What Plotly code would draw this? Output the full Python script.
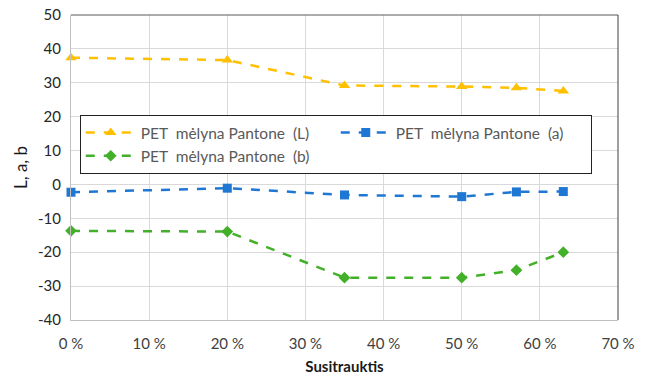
import plotly.graph_objects as go

# Shrinkage (%) and CIELab values
susitrauktis = [0, 20, 35, 50, 57, 63]
L_vals = [37.4, 36.7, 29.2, 28.9, 28.5, 27.6]
a_vals = [-2.3, -1.1, -3.1, -3.6, -2.2, -2.1]
b_vals = [-13.7, -13.9, -27.5, -27.5, -25.3, -20.0]

x_ticks = [0, 10, 20, 30, 40, 50, 60, 70]
x_ticktext = [f"{v} %" for v in x_ticks]
y_ticks = [-40, -30, -20, -10, 0, 10, 20, 30, 40, 50]
y_ticktext = [str(v) for v in y_ticks]

names = ["PET  mėlyna Pantone  (L)", "PET  mėlyna Pantone  (a)", "PET  mėlyna Pantone  (b)"]
colors = ["#FFC000", "#1F77D4", "#43B02A"]
symbols = ["triangle-up", "square", "diamond"]
sizes = [10, 9, 9]

fig = go.Figure()
for vals, name, col, sym, sz in zip([L_vals, a_vals, b_vals], names, colors, symbols, sizes):
    fig.add_trace(go.Scatter(
        x=susitrauktis, y=vals, name=name, mode="lines+markers",
        line=dict(color=col, width=2.5, dash="dash"),
        marker=dict(symbol=sym, size=sz, color=col),
        cliponaxis=False,
    ))

font_family = "Lato, 'Open Sans', sans-serif"

fig.update_layout(
    width=652, height=380,
    margin=dict(l=71, r=34, t=15, b=60),
    paper_bgcolor="white", plot_bgcolor="white",
    font=dict(family=font_family, size=15, color="#404040"),
    showlegend=True,
    legend=dict(
        orientation="h", x=0.016, y=0.672, xanchor="left", yanchor="top",
        bordercolor="#222222", borderwidth=1, bgcolor="white",
        font=dict(size=15.5, color="#595959"),
        entrywidth=190, entrywidthmode="pixels",
        itemwidth=50, tracegroupgap=0,
    ),
    xaxis=dict(
        range=[0, 70], tickvals=x_ticks, ticktext=x_ticktext,
        showgrid=True, gridcolor="#D9D9D9", gridwidth=1,
        showline=True, linecolor="#BFBFBF", linewidth=1,
        zeroline=False, ticks="", ticklabelstandoff=10, automargin=False,
        title=dict(text="<b>Susitrauktis</b>", font=dict(size=15, color="#1a1a1a"), standoff=10),
        tickfont=dict(size=15, color="#404040"),
    ),
    yaxis=dict(
        range=[-40, 50], tickvals=y_ticks, ticktext=y_ticktext,
        showgrid=True, gridcolor="#D9D9D9", gridwidth=1,
        showline=True, linecolor="#BFBFBF", linewidth=1,
        zeroline=False, ticks="", ticklabelstandoff=6, automargin=False,
        title=dict(text="L, a, b", font=dict(size=17, color="#1a1a1a"), standoff=6),
        tickfont=dict(size=15, color="#262626"),
    ),
)

# Darker frame on the top and right sides of the plot area
fig.add_shape(type="line", xref="paper", yref="paper", x0=0, x1=1, y0=1, y1=1,
              line=dict(color="#595959", width=1))
fig.add_shape(type="line", xref="paper", yref="paper", x0=1, x1=1, y0=0, y1=1,
              line=dict(color="#404040", width=1))

fig.write_html("out.html")
